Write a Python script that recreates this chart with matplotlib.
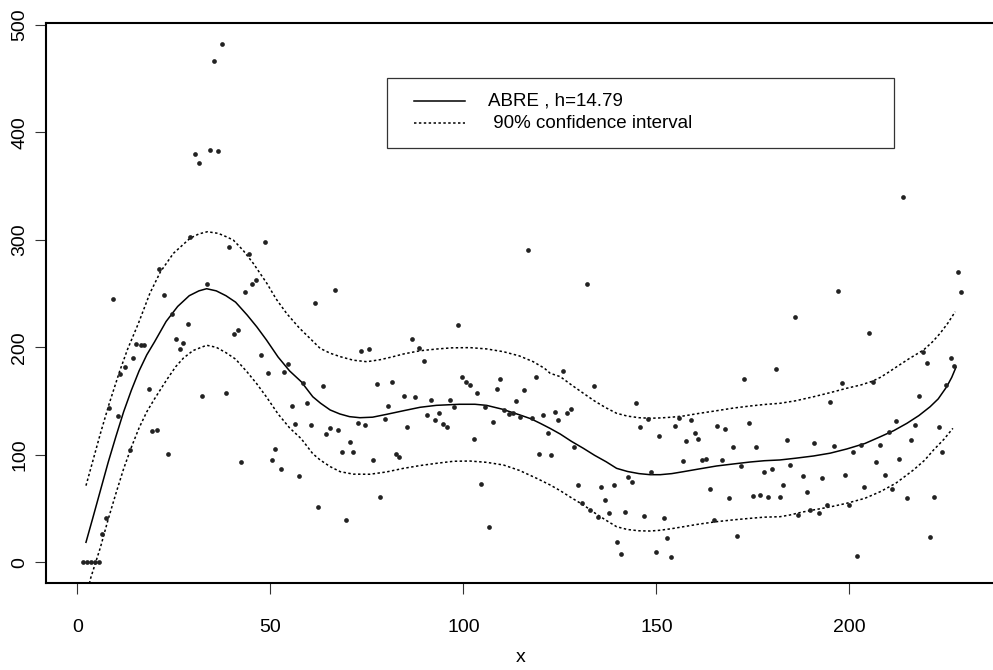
import numpy as np
import matplotlib
matplotlib.use("Agg")
import matplotlib.pyplot as plt
from matplotlib.patches import Rectangle
from matplotlib.lines import Line2D

plt.rcParams['font.family'] = ['Liberation Sans', 'DejaVu Sans']

pts_x = [9.3, 37.6, 35.5, 30.4, 31.5, 34.5, 36.5, 29.2, 21.2, 22.5, 33.5, 39.3, 44.5, 48.5,
         43.5, 45.3, 46.4, 61.6, 24.5, 28.6, 40.5, 41.5, 25.6,
         26.6, 27.5, 32.4, 38.5, 47.5, 49.4, 53.5, 54.5, 58.5, 63.6, 55.7, 59.6, 56.5, 60.5,
         64.5, 65.5, 50.5, 51.3, 52.7, 57.5, 62.4, 42.5, 23.4, 19.4, 20.6, 18.6, 15.2, 16.4,
         17.4, 14.4, 12.3, 11.1, 10.5, 8.3, 13.7, 7.4, 6.5, 1.5, 2.5, 3.5, 4.5, 5.5,
         77.6, 81.5, 100.6, 101.8, 103.6, 108.7, 115.8, 113.7, 84.6, 87.6, 91.7, 96.6, 97.7,
         80.6, 79.6, 72.6, 74.6, 85.5, 90.7, 93.6, 92.6, 94.6, 95.7, 105.7, 107.7, 110.5,
         111.8, 112.8, 114.7, 117.7, 120.7, 123.7, 124.6, 121.9, 119.7, 122.8, 102.7, 104.7,
         106.7, 78.5, 69.5, 76.5, 82.5, 83.4, 68.6, 71.5, 70.6, 67.5,
         66.7, 116.8, 98.7, 86.6, 73.6, 75.6, 88.5, 89.7, 99.7, 109.6, 118.8,
         131.9, 125.8, 181.0, 172.8,
         133.8, 144.6, 126.8, 127.9, 128.7, 147.7, 155.8, 158.9, 145.8, 154.8, 160.0, 160.7,
         157.8, 150.6, 165.8, 167.8, 174.0, 169.8, 175.9, 183.8, 156.8, 161.8, 162.9, 166.9,
         171.9, 148.6, 142.7, 143.8, 177.9, 180.0, 184.5, 182.8, 129.6, 135.7, 138.9, 136.7,
         130.8, 132.9, 135.0, 137.8, 141.9, 146.9, 152.1, 163.8, 168.8, 174.9, 176.9, 178.9,
         182.0, 164.9, 170.9, 139.9, 140.9, 149.9, 152.8, 153.8,
         214.0, 228.0, 229.0, 197.0, 185.9, 205.1, 219.1, 220.0, 226.2, 227.0,
         198.0, 206.1, 194.9, 218.1, 225.1, 212.1, 217.0, 223.1, 210.2, 216.0, 208.0, 202.9,
         201.0, 195.9, 190.8, 223.9, 207.0, 212.9, 187.9, 192.8, 198.9, 209.1, 189.0, 203.9,
         211.1, 215.0, 221.9, 194.1, 199.9, 189.9, 192.0, 186.6, 221.0, 202.0]
pts_y = [245, 482, 466, 379.5, 371, 384, 383, 302.6, 272.6, 248.6, 259, 293, 287, 297.7,
         251.7, 258.6, 262.6, 241, 230.7, 221.4, 212, 216, 207.7,
         198.7, 203.7, 154.7, 157.5, 192.5, 176.4, 176.7, 184, 167, 163.7, 145, 148, 129, 127.7,
         119, 125, 95.4, 105.4, 86.8, 80.3, 51, 93.3, 100.5, 122, 122.8, 161.5, 203, 202,
         202.4, 190.3, 181.4, 175, 136.4, 143.3, 104.8, 41.5, 26.3, 0, 0, 0, 0, 0,
         166.1, 167.4, 167.4, 164.9, 157.8, 161.2, 160, 149.8, 154.7, 153.8, 150.7, 151.3, 144.5,
         145.4, 133.3, 129.6, 128, 126.1, 136.7, 138.6, 132.4, 128.7, 125.6, 144.2, 130.5, 142,
         138.2, 138.9, 134.9, 134.2, 137.3, 140.1, 132.4, 120.3, 100.5, 100.1, 114.4, 73.1,
         32.6, 60.7, 39, 95.2, 101, 97.7, 102.3, 102.3, 111.9, 123.1,
         253.6, 290.8, 220.5, 207.7, 196.8, 198.1, 199, 187.3, 172.1, 170.5, 172.4,
         258.6, 178.2, 179.5, 170.2,
         164.3, 147.9, 138.9, 142.3, 107, 133.6, 134.2, 132.1, 126.1, 126.5, 120.3, 114.4,
         113.1, 117.5, 126.5, 124.3, 129.6, 107, 107.3, 113.5, 94, 94.9, 95.8, 95.2,
         89.9, 84.3, 79.1, 74.7, 84.3, 86.5, 90.8, 71.9, 71.9, 70.3, 71.6, 57.7,
         55.4, 48.9, 42.4, 45.6, 46.5, 43.1, 40.9, 67.9, 60.1, 62, 62.6, 60.7,
         60.7, 39.7, 24.2, 19.2, 8, 9.9, 22.6, 4.7,
         339.5, 270, 251.7, 252.7, 227.9, 213.3, 195.6, 185.7, 190, 182.6,
         167.1, 167.4, 149.1, 155, 164.9, 131.2, 127.4, 126.1, 121.2, 114, 109.4, 108.8,
         102.3, 107.9, 110.7, 102.3, 93.3, 96.4, 80.3, 78.4, 81.5, 81.5, 65.1, 69.8,
         67.9, 59.5, 60.5, 53.6, 53, 48.7, 45.6, 43.7, 23.3, 5.9]

# ABRE fit
fit_x = [2.25, 4, 6, 8, 10, 12, 14, 16, 18, 20, 23, 26, 29, 31.5, 33.5, 36, 38.5, 41, 44,
         46.5, 49, 52, 55, 58, 61, 63, 65.5, 68, 70.5, 73.2, 76.5, 80.2, 84.5, 88.8, 93, 99,
         103, 106, 110, 114.7, 117.5, 119.9, 122.5, 125.1, 128, 131.1, 134, 137, 139.7, 142.5,
         145.5, 148.4, 151, 154, 157, 161, 165.6, 170, 174.3, 178, 182, 186, 190.7, 195, 199.3,
         204, 208, 211.5, 214.9, 218, 220.9, 223, 225.2, 226.5, 227.6]
fit_y = [18.6, 41, 67, 93, 117, 140, 160, 178, 193, 205, 224, 238, 248, 252.5, 254.5, 252.5,
         248, 242, 230, 219, 206.8, 191, 178, 168, 154, 148, 141.7, 138, 135.5, 134.5, 135,
         137.7, 141, 144.2, 146, 147, 147, 146, 142.5, 137, 133.5, 129.3, 124.5, 119.3, 112.5,
         106, 99.5, 93.5, 87.4, 84.5, 82.5, 81.5, 81.5, 82.5, 84.3, 86.8, 89.6, 91.5, 93.3,
         94.5, 95.2, 96.8, 98.9, 101.5, 105.4, 110.5, 116.8, 122.5, 129.3, 136.5, 144.7, 152,
         163.3, 172, 181.4]

# 90% band, upper and lower dotted lines
up_x = [2.25, 4, 6, 8.3, 11, 13, 15.8, 18.8, 21.5, 24.9, 29.2, 31.5, 33.7, 36.5, 38.5, 40.4,
        43, 45.6, 49.1, 51.5, 54.2, 57.5, 60.7, 62.9, 65.5, 68.1, 71.5, 75, 78.5, 81.5, 84.5,
        88.8, 93.1, 97, 101.7, 106, 110.4, 114.5, 118.1, 121, 122.5, 125.1, 128, 131.1, 134,
        136.8, 139.7, 142.5, 145.5, 148.4, 151, 154, 157, 161, 165.6, 170, 174.3, 178, 182,
        186, 190.7, 195, 199.3, 203, 206, 208, 210, 212.3, 215.5, 219.2, 221.5, 223.5, 225.5,
        227.4]
up_y = [71.3, 94, 120, 148, 178, 198, 222, 250.2, 270, 287.4, 301.4, 305.5, 307.5, 306, 303,
        299.8, 290, 278, 259.5, 245, 231.6, 218, 206.8, 199, 194.5, 191.3, 188, 186.6, 188.5,
        191, 193.8, 196.8, 198.4, 199.5, 199.7, 198.5, 195.9, 192, 186.6, 180.5, 175.8, 172.7,
        165, 157.2, 150, 144, 138.6, 136, 134.5, 134, 134.3, 135, 136.1, 138.5, 141, 143.5,
        145.4, 146.8, 147.9, 150.2, 154, 157.8, 161.9, 165, 168.5, 172, 176.5, 182, 189.5,
        197.5, 205, 213, 222.5, 233.1]
lo_x = [2.25, 3.5, 6, 8, 10, 12, 14, 16, 18, 20, 23.2, 25.5, 27.5, 30, 33.5, 36, 38.5, 41,
        44, 46.5, 49, 52, 55, 58, 61, 62.9, 65.5, 68.1, 71.5, 75.8, 80, 84.5, 88.8, 93.1, 97.5,
        101.7, 106, 110.4, 114.5, 119, 122.5, 125.1, 128, 131.1, 134, 137, 139.7, 142.5, 145.5,
        148.4, 151, 154, 157, 161, 165.6, 170, 174.3, 178, 182, 184.6, 187.5, 190.7, 195,
        199.3, 204, 208, 212, 216.6, 219.5, 221.8, 224.5, 226.8]
lo_y = [-33, -14.3, 14, 40, 64, 87, 107, 125, 140, 152, 170, 182, 190, 197, 201.9, 200, 195,
        189, 177, 166, 153.8, 138, 125, 115, 101, 95.2, 89, 84.3, 82, 81.9, 84, 87.4, 90,
        92.1, 94, 94.2, 93, 90.5, 85.5, 78.1, 71.9, 66.6, 60, 53.3, 46, 39, 33.1, 30.5, 29.3,
        29.1, 29.8, 31.3, 33.1, 35.5, 37.8, 39.5, 40.9, 42, 42.4, 44, 46.5, 48.7, 51.5, 54.9,
        59.5, 65.7, 73.5, 85.9, 95, 104.5, 114.5, 124.6]

x_ticks = [0, 50, 100, 150, 200]
y_ticks = [0, 100, 200, 300, 400, 500]
legend_labels = ["ABRE , h=14.79", " 90% confidence interval"]

W, H = 993, 670
fig = plt.figure(figsize=(W / 100, H / 100), dpi=100)
# plot box in pixels: left 45.6, right 996.5 (just past the edge), top 23.3, bottom 583
ax = fig.add_axes([45.6 / W, (H - 583) / H, (996.5 - 45.6) / W, (583 - 23.3) / H])

dotted = (0, (1.6, 1.6))
ax.plot(pts_x, pts_y, 'o', ms=3.4, color='#222222', mec='none', zorder=3)
ax.plot(fit_x, fit_y, '-', color='black', lw=1.1)
ax.plot(up_x, up_y, color='black', lw=1.1, ls=dotted)
ax.plot(lo_x, lo_y, color='black', lw=1.1, ls=dotted)

ax.set_xlim(-8.21, 238.1)
ax.set_ylim(-19.26, 501.4)
ax.set_xticks(x_ticks)
ax.set_yticks(y_ticks)
for sp in ax.spines.values():
    sp.set_linewidth(1.5)
ax.tick_params(axis='both', length=8, width=0.8, color='#333333', labelsize=14)
ax.tick_params(axis='x', pad=18)
ax.tick_params(axis='y', pad=4.5, labelrotation=90)
for lab in ax.get_yticklabels():
    lab.set_va('center')
ax.set_xlabel('x', fontsize=14)
ax.xaxis.set_label_coords(0.5, -(658 - 583) / (583 - 23.3), transform=ax.transAxes)
ax.xaxis.label.set_va('center')

# legend box drawn by hand, R style
def axf(px, py):
    return (px - 45.6) / (996.5 - 45.6), (583 - py) / (583 - 23.3)

x0, y0 = axf(387, 148.3)
x1, y1 = axf(894, 78.5)
ax.add_patch(Rectangle((x0, y0), x1 - x0, y1 - y0, transform=ax.transAxes,
                       fill=True, facecolor='white', edgecolor='#333333', lw=0.9, zorder=5))
hx0, _ = axf(414, 0)
hx1, _ = axf(465, 0)
tx, _ = axf(488, 0)
for row_py, lab, ls in zip([101, 123.3], legend_labels, ['-', dotted]):
    _, ry = axf(0, row_py)
    ax.add_line(Line2D([hx0, hx1], [ry, ry], transform=ax.transAxes, color='black',
                       lw=1.1, ls=ls, zorder=6))
    ax.text(tx, ry, lab, transform=ax.transAxes, fontsize=13.5, va='center', ha='left', zorder=6)

fig.savefig('out.png', dpi=100)
